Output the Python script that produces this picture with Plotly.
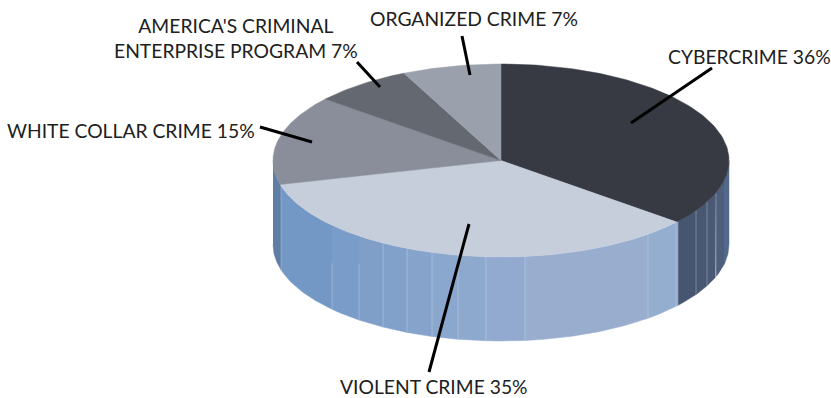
import numpy as np
import plotly.graph_objects as go

# Crime categories and their share of the total, clockwise from twelve o'clock
categories = ["CYBERCRIME", "VIOLENT CRIME", "WHITE COLLAR CRIME",
              "AMERICA'S CRIMINAL<br>ENTERPRISE PROGRAM", "ORGANIZED CRIME"]
shares = [36, 35, 15, 7, 7]
top_colors = ["#373a43", "#c6cedc", "#898e9a", "#646871", "#9aa0ac"]

# Where each label sits and where its leader line runs
label_pos = [(749.5, 56), (434, 386), (131, 130), (236, 38), (474, 18)]
leaders = [((631, 123), (712, 68)), ((469, 224), (429, 372)), ((312, 142), (260, 127)),
           ((380, 87), (357, 62)), ((470, 75), (462, 36))]

# Disc projection: centre, radii and thickness
CX, CY, RX, RY, DEPTH = 501, 160.5, 228, 96.5, 84

# Facet edges along the visible rim with the facet colours from left to right
facet_x = [273, 281, 332, 359, 383, 407, 432, 458, 486, 525, 648, 676, 678, 696, 707, 716, 724, 729]
facet_colors = ["#5f7ea6", "#7398c6", "#7a9cc8", "#7f9fc9", "#82a1ca", "#86a4cb", "#8aa7cd", "#8ea9ce",
                "#92aacf", "#99aecf", "#94aed0", "#8ba7c9", "#465670", "#485871", "#4a5a75", "#4d5f7b", "#53698a"]
edge_starts = [0, 0, 38, 28, 0, 0, 0, 0, 0, 0, 0, 0, 0, 0, 0, 0]


def rim_point(theta):
    """Point on the top ellipse for a clockwise angle from twelve o'clock."""
    return CX + RX * np.sin(theta), CY - RY * np.cos(theta)


fig = go.Figure()

# Side wall, one filled band per facet
for x0, x1, color in zip(facet_x[:-1], facet_x[1:], facet_colors):
    xs = np.linspace(x0, x1, 40)
    top = CY + RY * np.sqrt(np.clip(1 - ((xs - CX) / RX) ** 2, 0, 1))
    fig.add_trace(go.Scatter(
        x=np.r_[xs, xs[::-1]], y=np.r_[top, (top + DEPTH)[::-1]],
        mode="lines", fill="toself", fillcolor=color,
        line=dict(color=color, width=0.5), hoverinfo="skip", showlegend=False))

# Thin light seams between facets
for x, start in zip(facet_x[1:-1], edge_starts[1:]):
    top = CY + RY * np.sqrt(1 - ((x - CX) / RX) ** 2)
    fig.add_trace(go.Scatter(
        x=[x, x], y=[top + start, top + DEPTH], mode="lines",
        line=dict(color="rgba(215,224,240,0.35)", width=1), hoverinfo="skip", showlegend=False))

# Top face: one wedge per category, sweep taken from its share
edges = np.cumsum([0] + shares) / sum(shares) * 2 * np.pi
for a0, a1, color in zip(edges[:-1], edges[1:], top_colors):
    theta = np.linspace(a0, a1, 120)
    px, py = rim_point(theta)
    fig.add_trace(go.Scatter(
        x=np.r_[CX, px, CX], y=np.r_[CY, py, CY], mode="lines", fill="toself",
        fillcolor=color, line=dict(color=color, width=0.5), hoverinfo="skip", showlegend=False))

# Leader lines
for (x0, y0), (x1, y1) in leaders:
    fig.add_shape(type="line", x0=x0, y0=y0, x1=x1, y1=y1, line=dict(color="#000000", width=3))

# Labels
for name, share, (lx, ly) in zip(categories, shares, label_pos):
    fig.add_annotation(x=lx, y=ly, text=f"{name} {share}%", showarrow=False, align="center",
                       xanchor="center", yanchor="middle",
                       font=dict(family="Lato", size=19.3, color="#202020"))

fig.update_layout(
    width=831, height=398, margin=dict(l=0, r=0, t=0, b=0),
    paper_bgcolor="white", plot_bgcolor="white", showlegend=False,
    xaxis=dict(range=[0, 831], visible=False, fixedrange=True),
    yaxis=dict(range=[398, 0], visible=False, fixedrange=True),
)
fig.write_html("out.html", config={"displayModeBar": False})
